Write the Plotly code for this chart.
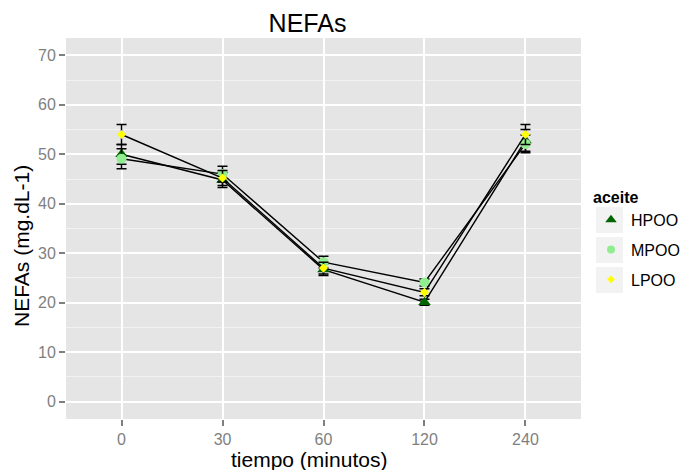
import plotly.graph_objects as go

# ---- data ----
tiempo = ["0", "30", "60", "120", "240"]
series_names = ["HPOO", "MPOO", "LPOO"]
hpoo = [50.0, 44.8, 26.7, 20.1, 52.8]
hpoo_err = [2.0, 1.5, 1.2, 0.6, 2.2]
mpoo = [49.1, 46.0, 28.2, 24.1, 52.1]
mpoo_err = [2.0, 1.6, 1.2, 0.7, 1.8]
lpoo = [54.0, 45.2, 27.0, 22.1, 54.0]
lpoo_err = [2.0, 1.5, 1.2, 0.7, 2.0]
y_ticks = [0, 10, 20, 30, 40, 50, 60, 70]

values = [hpoo, mpoo, lpoo]
errors = [hpoo_err, mpoo_err, lpoo_err]
colors = ["#006400", "#90EE90", "#FFFF00"]
symbols = ["triangle-up", "circle", "diamond"]
sizes = [11, 10, 7]
legend_sizes = [10, 8, 6]

FONT = "Liberation Sans, Arial, sans-serif"

fig = go.Figure()
for name, v, e, c, s, sz in zip(series_names, values, errors, colors, symbols, sizes):
    fig.add_trace(go.Scatter(
        x=tiempo, y=v, name=name, legendgroup=name, showlegend=False,
        mode="lines+markers",
        line=dict(color="black", width=1.4),
        marker=dict(color=c, symbol=s, size=sz, line=dict(width=0)),
        error_y=dict(type="data", array=e, visible=True, color="black",
                     thickness=1.5, width=5),
    ))

# legend-only entries (markers only, like ggplot keys)
for name, c, s, sz in zip(series_names, colors, symbols, legend_sizes):
    fig.add_trace(go.Scatter(
        x=[None], y=[None], name=name, legendgroup=name, showlegend=True,
        mode="markers", marker=dict(color=c, symbol=s, size=sz, line=dict(width=0)),
    ))

# legend key backgrounds (ggplot style)
for i in range(3):
    top = 207 + i * 30
    fig.add_shape(type="rect", xref="paper", yref="paper",
                  x0=(596 - 66) / 515, x1=(623 - 66) / 515,
                  y0=(419 - top) / 381, y1=(419 - (top + 26)) / 381,
                  fillcolor="#F2F2F2", line=dict(width=0), layer="below")

fig.update_layout(
    width=683, height=470,
    margin=dict(l=66, r=102, t=38, b=51),
    paper_bgcolor="white", plot_bgcolor="#E5E5E5",
    font=dict(family=FONT, color="black"),
    title=dict(text="NEFAs", x=(307.5 - 66) / 515, xref="paper", xanchor="center",
               y=1 - 23 / 470, yref="container", yanchor="middle",
               font=dict(size=25, color="black", family=FONT)),
    showlegend=True,
    legend=dict(title=dict(text="<b>aceite</b>", font=dict(size=16, family=FONT)),
                xref="container", yref="container",
                x=591 / 683, xanchor="left", y=1 - 182 / 470, yanchor="top",
                font=dict(size=16, family=FONT, color="black"),
                bgcolor="rgba(0,0,0,0)", tracegroupgap=6, traceorder="grouped"),
    xaxis=dict(type="category", range=[-0.55, 4.55], showgrid=True,
               gridcolor="white", gridwidth=1.8, zeroline=False, automargin=False,
               ticks="outside", ticklen=6, tickwidth=1.5, tickcolor="#7F7F7F",
               tickfont=dict(size=16, color="#7F7F7F", family=FONT),
               showline=False),
    yaxis=dict(range=[-3.5, 73.5], tickvals=y_ticks, showgrid=True,
               gridcolor="white", gridwidth=1.8, zeroline=False, automargin=False,
               ticks="outside", ticklen=6, tickwidth=1.5, tickcolor="#7F7F7F",
               tickfont=dict(size=16, color="#7F7F7F", family=FONT),
               minor=dict(dtick=5, tick0=5, showgrid=True, gridcolor="#F2F2F2",
                          gridwidth=0.9, ticks=""),
               showline=False),
    annotations=[
        dict(text="tiempo (minutos)", xref="paper", yref="paper",
             x=(308.5 - 66) / 515, y=(419 - 459) / 381, xanchor="center", yanchor="middle",
             showarrow=False, font=dict(size=21, color="black", family=FONT)),
        dict(text="NEFAs (mg.dL-1)", xref="paper", yref="paper", textangle=-90,
             x=(21 - 66) / 515, y=(419 - 246) / 381, xanchor="center", yanchor="middle",
             showarrow=False, font=dict(size=21, color="black", family=FONT)),
    ],
)

fig.write_html("out.html", config={"displayModeBar": False},
               post_script="document.body.style.margin='0px';")
